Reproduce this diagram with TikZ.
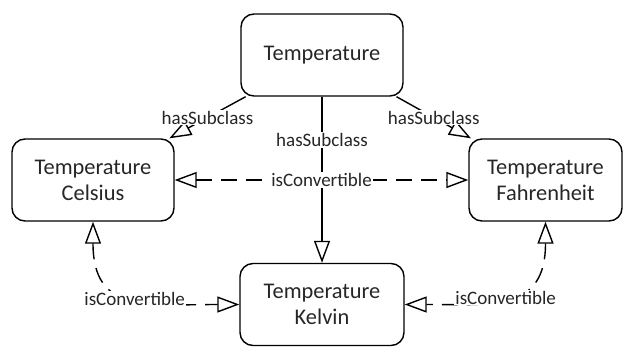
\documentclass[tikz,border=0pt]{standalone}
\usepackage{fontspec}
\setmainfont{Carlito}
\usetikzlibrary{arrows.meta}
\tikzset{
  cls/.style={draw, line width=1.4pt, rounded corners=13pt, align=center,
    minimum width=162pt, minimum height=82pt, inner sep=2pt,
    font=\fontsize{22.4}{26}\selectfont, text=black!85},
  lbl/.style={fill=white, inner sep=1pt, font=\fontsize{19}{21}\selectfont, text=black!85},
  sub/.style={line width=1.4pt, -{Triangle[open, length=22pt, width=16pt]}},
  conv/.style={line width=1.4pt, dash pattern=on 16pt off 9pt,
    {Triangle[open, length=22pt, width=16pt]}-{Triangle[open, length=22pt, width=16pt]}}
}
\begin{document}
\begin{tikzpicture}[x=1pt,y=1pt]
      \useasboundingbox (0,0) rectangle (624,-346);
      \draw
        (322,-55) node[cls] (temp){Temperature}
        (93,-180) node[cls] (cel){Temperature\\Celsius}
        (545.5,-180) node[cls, minimum width=153pt] (fah){Temperature\\Fahrenheit}
        (322,-304.5) node[cls, minimum width=164pt] (kel){Temperature\\Kelvin};
      \begin{scope}
        \draw[sub] (temp) -- node[lbl]{hasSubclass} (cel);
        \draw[sub] (temp) -- node[lbl]{hasSubclass} (fah);
        \draw[sub] (temp) -- node[lbl, pos=0.26]{hasSubclass} (kel);
        \draw[conv] (cel) -- node[lbl]{isConvertible} (fah);
        \draw[conv] (cel.south) to[out=-90, in=180, looseness=1.4] node[lbl, pos=0.52]{isConvertible} (kel.west);
        \draw[conv] (fah.south) to[out=-90, in=0, looseness=1.4] node[lbl, pos=0.52]{isConvertible} (kel.east);
      \end{scope}
    \end{tikzpicture}
\end{document}
